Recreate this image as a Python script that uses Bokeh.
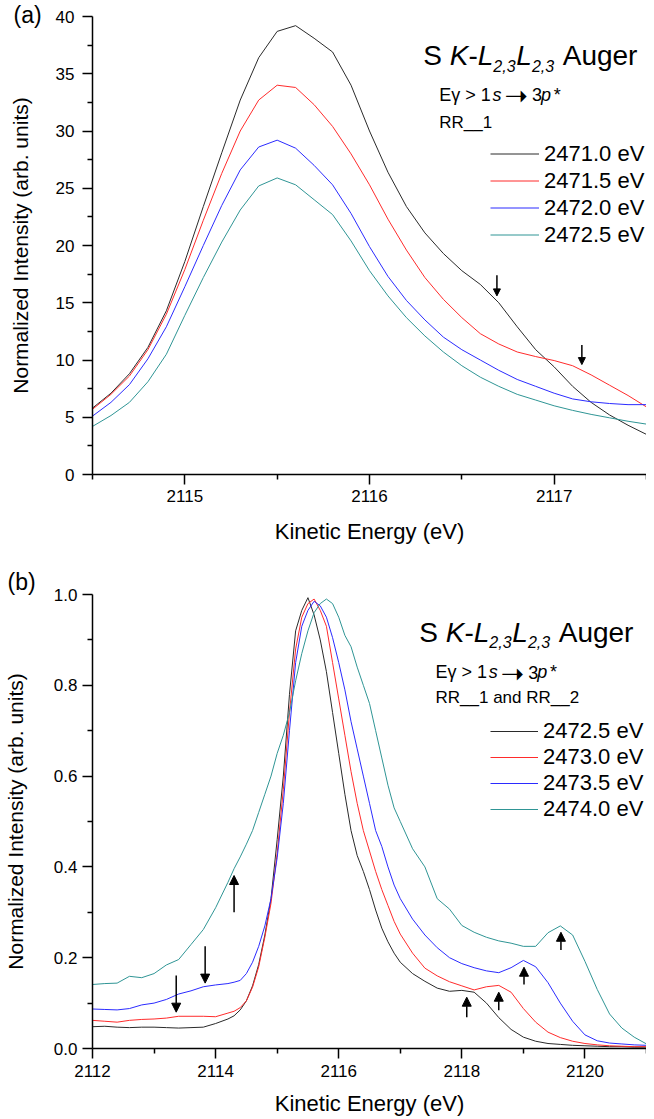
from bokeh.plotting import figure
from bokeh.layouts import column
from bokeh.models import (Range1d, FixedTicker, PrintfTickFormatter, Legend, LegendItem,
                          Label, Arrow, NormalHead)
from bokeh.embed import file_html
from bokeh.resources import INLINE

FONT = "Liberation Sans"

# ---------------- Panel (a) data ----------------
energy_a = [2114.5, 2114.6, 2114.7, 2114.8, 2114.9, 2115.0, 2115.1, 2115.2, 2115.3, 2115.4,
            2115.5, 2115.6, 2115.7, 2115.8, 2115.9, 2116.0, 2116.1, 2116.2, 2116.3, 2116.4,
            2116.5, 2116.6, 2116.7, 2116.8, 2116.9, 2117.0, 2117.1, 2117.2, 2117.3, 2117.4, 2117.5]
int_2471_0 = [5.8, 7.1, 8.8, 11.1, 14.3, 18.6, 23.4, 28.1, 32.7, 36.4,
              38.7, 39.2, 38.1, 36.9, 34.0, 30.0, 26.4, 23.4, 21.1, 19.3,
              17.8, 16.6, 15.0, 12.9, 10.9, 9.4, 7.7, 6.3, 5.2, 4.3, 3.5]
int_2471_5 = [5.7, 7.0, 8.6, 10.9, 14.0, 17.9, 22.2, 26.3, 30.0, 32.7,
              34.0, 33.8, 32.3, 30.4, 28.0, 25.3, 22.3, 19.6, 17.2, 15.3,
              13.7, 12.3, 11.4, 10.7, 10.3, 9.95, 9.5, 8.7, 7.8, 6.9, 5.9]
int_2472_0 = [5.1, 6.3, 7.85, 10.1, 12.9, 16.4, 20.0, 23.5, 26.6, 28.6,
              29.2, 28.5, 27.0, 25.3, 22.8, 19.9, 17.3, 15.2, 13.5, 12.0,
              10.9, 10.0, 9.1, 8.3, 7.7, 7.1, 6.6, 6.35, 6.2, 6.1, 6.1]
int_2472_5a = [4.2, 5.15, 6.3, 8.1, 10.5, 13.9, 17.2, 20.3, 23.1, 25.2,
               25.9, 25.3, 24.0, 22.7, 20.4, 17.8, 15.6, 13.7, 12.1, 10.7,
               9.5, 8.5, 7.7, 7.0, 6.5, 6.0, 5.6, 5.25, 4.95, 4.65, 4.4]
labels_a = ["2471.0 eV", "2471.5 eV", "2472.0 eV", "2472.5 eV"]
x_ticks_a = [2115, 2116, 2117]
x_minor_a = [2114.5, 2115.5, 2116.5, 2117.5]
y_ticks_a = [0, 5, 10, 15, 20, 25, 30, 35, 40]
y_minor_a = [2.5, 7.5, 12.5, 17.5, 22.5, 27.5, 32.5, 37.5]
arrow_a_x = [2116.69, 2117.15]
arrow_a_y0 = [17.4, 11.3]
arrow_a_y1 = [15.6, 9.6]

# ---------------- Panel (b) data ----------------
energy_b = [2112.0, 2112.2, 2112.4, 2112.6, 2112.8, 2113.0, 2113.2, 2113.4, 2113.6, 2113.8,
            2114.0, 2114.2, 2114.3, 2114.4, 2114.5, 2114.6, 2114.7, 2114.8, 2114.9, 2115.0,
            2115.1, 2115.2, 2115.3, 2115.4, 2115.5, 2115.6, 2115.7, 2115.8, 2115.9, 2116.0,
            2116.1, 2116.2, 2116.3, 2116.4, 2116.5, 2116.6, 2116.7, 2116.8, 2116.9, 2117.0,
            2117.2, 2117.4, 2117.6, 2117.8, 2118.0, 2118.2, 2118.4, 2118.6, 2118.8, 2119.0,
            2119.2, 2119.4, 2119.6, 2119.8, 2120.0, 2120.2, 2120.4, 2120.6, 2120.8, 2121.0]
int_2472_5b = [0.048, 0.049, 0.047, 0.046, 0.047, 0.047, 0.046, 0.045, 0.046, 0.047,
               0.055, 0.065, 0.072, 0.085, 0.105, 0.138, 0.185, 0.250, 0.330, 0.460,
               0.600, 0.780, 0.920, 0.965, 0.993, 0.955, 0.900, 0.830, 0.740, 0.650,
               0.560, 0.480, 0.425, 0.390, 0.350, 0.305, 0.265, 0.235, 0.210, 0.190,
               0.165, 0.148, 0.133, 0.126, 0.128, 0.124, 0.100, 0.068, 0.042, 0.025,
               0.016, 0.011, 0.009, 0.007, 0.006, 0.005, 0.004, 0.004, 0.003, 0.003]
int_2473_0 = [0.062, 0.060, 0.058, 0.062, 0.064, 0.065, 0.067, 0.071, 0.071, 0.071,
              0.070, 0.078, 0.082, 0.090, 0.105, 0.135, 0.180, 0.245, 0.320, 0.430,
              0.570, 0.740, 0.880, 0.950, 0.980, 0.990, 0.965, 0.930, 0.850, 0.770,
              0.690, 0.610, 0.540, 0.480, 0.435, 0.390, 0.350, 0.315, 0.280, 0.252,
              0.210, 0.177, 0.160, 0.147, 0.138, 0.129, 0.136, 0.139, 0.124, 0.088,
              0.058, 0.036, 0.024, 0.016, 0.011, 0.008, 0.006, 0.005, 0.004, 0.004]
int_2473_5 = [0.087, 0.086, 0.085, 0.088, 0.096, 0.100, 0.108, 0.120, 0.127, 0.136,
              0.140, 0.143, 0.146, 0.150, 0.165, 0.190, 0.225, 0.270, 0.330, 0.420,
              0.540, 0.700, 0.850, 0.930, 0.965, 0.985, 0.975, 0.950, 0.905, 0.850,
              0.790, 0.720, 0.660, 0.600, 0.540, 0.480, 0.445, 0.400, 0.360, 0.330,
              0.285, 0.250, 0.222, 0.200, 0.187, 0.178, 0.171, 0.167, 0.178, 0.194,
              0.180, 0.145, 0.100, 0.060, 0.030, 0.017, 0.012, 0.010, 0.008, 0.007]
int_2474_0 = [0.141, 0.143, 0.144, 0.159, 0.156, 0.165, 0.184, 0.196, 0.229, 0.262,
              0.310, 0.366, 0.396, 0.422, 0.450, 0.480, 0.520, 0.560, 0.600, 0.650,
              0.690, 0.740, 0.810, 0.870, 0.920, 0.960, 0.980, 0.990, 0.980, 0.950,
              0.910, 0.885, 0.840, 0.800, 0.760, 0.700, 0.640, 0.580, 0.530, 0.500,
              0.440, 0.400, 0.330, 0.307, 0.271, 0.256, 0.245, 0.237, 0.232, 0.225,
              0.225, 0.255, 0.270, 0.250, 0.192, 0.130, 0.076, 0.045, 0.025, 0.010]
labels_b = ["2472.5 eV", "2473.0 eV", "2473.5 eV", "2474.0 eV"]
x_ticks_b = [2112, 2114, 2116, 2118, 2120]
x_minor_b = [2113, 2115, 2117, 2119, 2121]
y_ticks_b = [0.0, 0.2, 0.4, 0.6, 0.8, 1.0]
y_minor_b = [0.1, 0.3, 0.5, 0.7, 0.9]
arrow_b_x = [2113.36, 2113.83, 2114.30, 2118.08, 2118.60, 2119.01, 2119.61]
arrow_b_y0 = [0.161, 0.225, 0.300, 0.069, 0.084, 0.141, 0.217]
arrow_b_y1 = [0.080, 0.144, 0.381, 0.113, 0.124, 0.179, 0.256]

colors = ["#2a2a2a", "#ff2b2b", "#2b2bff", "#2f9595"]


def style_axes(p, xt, xm, yt, ym, yfmt, ylab_standoff, ytick_standoff, xtick_standoff, xlab_standoff):
    p.xaxis.ticker = FixedTicker(ticks=xt, minor_ticks=xm)
    p.yaxis.ticker = FixedTicker(ticks=yt, minor_ticks=ym)
    p.xaxis.formatter = PrintfTickFormatter(format="%d")
    p.yaxis.formatter = PrintfTickFormatter(format=yfmt)
    for ax in (p.xaxis[0], p.yaxis[0]):
        ax.axis_line_width = 1.5
        ax.axis_line_color = "black"
        ax.major_tick_line_width = 1.5
        ax.minor_tick_line_width = 1.5
        ax.major_tick_line_color = "black"
        ax.minor_tick_line_color = "black"
        ax.major_tick_out = 10
        ax.major_tick_in = 0
        ax.minor_tick_out = 5
        ax.minor_tick_in = 0
        ax.major_label_text_font = FONT
        ax.major_label_text_font_size = "17px"
        ax.major_label_text_color = "black"
        ax.axis_label_text_font = FONT
        ax.axis_label_text_font_style = "normal"
        ax.axis_label_text_color = "black"
    p.xaxis.axis_label = "Kinetic Energy (eV)"
    p.xaxis.axis_label_text_font_size = "22px"
    p.xaxis.major_label_standoff = xtick_standoff
    p.xaxis.axis_label_standoff = xlab_standoff
    p.yaxis.axis_label = "Normalized Intensity (arb. units)"
    p.yaxis.axis_label_text_font_size = "21px"
    p.yaxis.major_label_standoff = ytick_standoff
    p.yaxis.axis_label_standoff = ylab_standoff
    p.grid.visible = False
    p.outline_line_color = None


def style_panel_title(p, offset, standoff, valign):
    p.title.align = "left"
    p.title.offset = offset
    p.title.text_font = FONT
    p.title.text_font_size = "23px"
    p.title.text_font_style = "normal"
    p.title.text_color = "black"
    p.title.vertical_align = valign
    try:
        p.title.standoff = standoff
    except Exception:
        p.title.standoff = 0


def add_text(p, fl, fb, px, py, text, size, style="normal", font=FONT):
    p.add_layout(Label(x=px - fl, y=fb - py, x_units="screen", y_units="screen",
                       text=text, text_font=font, text_font_size=size,
                       text_font_style=style, text_color="black",
                       text_baseline="alphabetic", text_align="left", level="overlay"))


def add_header(p, fl, fb, x0, base, x2, base2, base3, line3):
    dx = x0 - 420.7
    add_text(p, fl, fb, 420.7 + dx, base, "S", "28px")
    add_text(p, fl, fb, 447.2 + dx, base, "K", "28px", "italic")
    add_text(p, fl, fb, 465.9 + dx, base, "-", "28px")
    add_text(p, fl, fb, 475.2 + dx, base, "L", "28px", "italic")
    add_text(p, fl, fb, 490.8 + dx, base + 10, "2,3", "16px", "italic")
    add_text(p, fl, fb, 513.8 + dx, base, "L", "28px", "italic")
    add_text(p, fl, fb, 529.4 + dx, base + 10, "2,3", "16px", "italic")
    add_text(p, fl, fb, 560.2 + dx, base, "Auger", "28px")
    d2 = x2 - 436.7
    add_text(p, fl, fb, 436.7 + d2, base2, "E\u03b3 > 1", "18px")
    add_text(p, fl, fb, 490.0 + d2, base2, "s", "18px", "italic")
    add_text(p, fl, fb, 502.0 + d2, base2 + 1, "\u279d", "28px", "normal", "DejaVu Sans")
    add_text(p, fl, fb, 529.5 + d2, base2, "3", "18px")
    add_text(p, fl, fb, 538.5 + d2, base2, "p", "18px", "italic")
    add_text(p, fl, fb, 550.5 + d2, base2, "*", "18px", "italic")
    add_text(p, fl, fb, x2, base3, line3, "17px")


def make_legend(p, renderers, labels, loc, row_h, glyph_w):
    items = [LegendItem(label=l, renderers=[r]) for l, r in zip(labels, renderers)]
    lg = Legend(items=items, location=loc, orientation="vertical",
                glyph_width=glyph_w, glyph_height=row_h, label_height=row_h,
                spacing=0, padding=0, margin=0, label_standoff=5,
                label_text_font=FONT, label_text_font_size="22px",
                label_text_color="black", border_line_color=None,
                background_fill_alpha=0)
    p.add_layout(lg)


# ---------------- Figure (a) ----------------
pa = figure(width=646, height=555, x_range=Range1d(2114.5, 2117.5), y_range=Range1d(0, 40),
            output_backend="svg", toolbar_location=None, title="(a)",
            min_border_left=82, min_border_right=0, min_border_top=16, min_border_bottom=81)
style_panel_title(pa, -79, -27, "top")
style_axes(pa, x_ticks_a, x_minor_a, y_ticks_a, y_minor_a, "%d", 21, 8, 5, 14)
rs_a = []
for ys, c in zip([int_2471_0, int_2471_5, int_2472_0, int_2472_5a], colors):
    rs_a.append(pa.line(energy_a, ys, line_color=c, line_width=1))
make_legend(pa, rs_a, labels_a, (398, 226), 27, 49)
for xa, y0, y1 in zip(arrow_a_x, arrow_a_y0, arrow_a_y1):
    pa.add_layout(Arrow(x_start=xa, y_start=y0, x_end=xa, y_end=y1, line_width=1.5,
                        line_color="black",
                        end=NormalHead(size=7, fill_color="black", line_color="black", line_width=1)))
FLa, FBa = 90, 474
add_header(pa, FLa, FBa, 420.7, 55, 436.7, 94.3, 121.7, "RR__1")

# ---------------- Figure (b) ----------------
pb = figure(width=646, height=564, x_range=Range1d(2112, 2121), y_range=Range1d(0, 1.0),
            output_backend="svg", toolbar_location=None, title="(b)",
            min_border_left=87, min_border_right=0, min_border_top=39, min_border_bottom=71)
style_panel_title(pb, -85, 0, "bottom")
style_axes(pb, x_ticks_b, x_minor_b, y_ticks_b, y_minor_b, "%.1f", 24, 5, 6, 11)
rs_b = []
for ys, c in zip([int_2472_5b, int_2473_0, int_2473_5, int_2474_0], colors):
    rs_b.append(pb.line(energy_b, ys, line_color=c, line_width=1))
make_legend(pb, rs_b, labels_b, (398, 226), 26, 48)
for xb, y0, y1 in zip(arrow_b_x, arrow_b_y0, arrow_b_y1):
    pb.add_layout(Arrow(x_start=xb, y_start=y0, x_end=xb, y_end=y1, line_width=1.5,
                        line_color="black",
                        end=NormalHead(size=9, fill_color="black", line_color="black", line_width=1)))
FLb, FBb = 95, 1048
add_header(pb, FLb, FBb, 421.7, 631.7, 438.0, 671.7, 696.7, "RR__1 and RR__2")

layout = column(pa, pb, spacing=0)
open("out.html", "w").write(file_html(layout, INLINE))
